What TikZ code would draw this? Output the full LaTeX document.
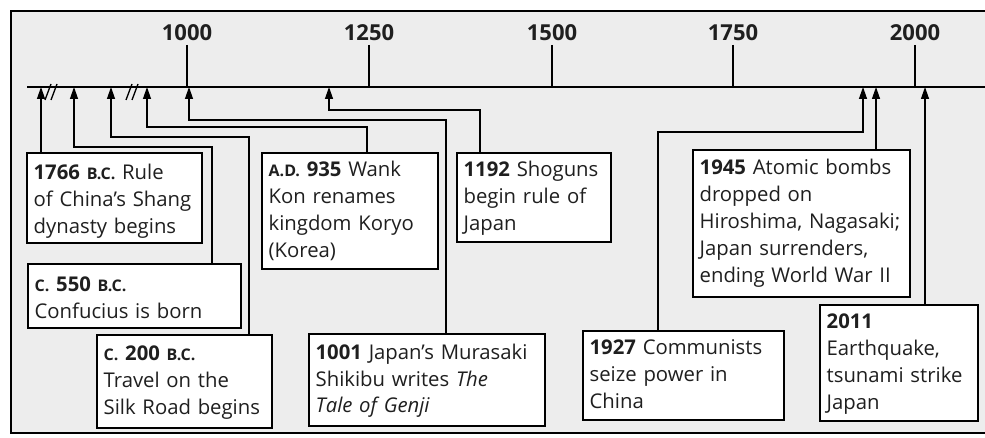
\documentclass[tikz,border=0pt]{standalone}
\usepackage{fontspec}
\setmainfont{Open Sans}
\usetikzlibrary{arrows.meta}
\newcommand\smc[1]{{\fontsize{16}{27}\selectfont #1}}
\begin{document}
\begin{tikzpicture}[x=1pt,y=-1pt,
  line width=1.3pt,
  box/.style={draw, fill=white, inner sep=0pt, outer sep=0pt, anchor=north west},
  txt/.style={anchor=base west, inner sep=0pt, align=left, font=\fontsize{20.3}{27}\selectfont, text=black!88},
  arr/.style={-{Triangle[length=12pt,width=8pt]}},
  yr/.style={font=\bfseries\fontsize{22}{22}\selectfont, anchor=base, inner sep=0pt, text=black!88}
]
\useasboundingbox (0,0) rectangle (985,438);
% frame
\fill[black!7] (11,11) rectangle (990,433);
\draw (990,11) -- (11,11) -- (11,433) -- (990,433);
% axis
\coordinate (axL) at (27,87);
\coordinate (axR) at (990,87);
\draw (axL) -- (axR);
% break marks
\draw (45,100) -- (51,84);
\draw (51,100) -- (57,84);
\draw (126,100) -- (132,84);
\draw (132,100) -- (138,84);
% year labels and ticks
\foreach \yv/\xv in {1000/187,1250/369,1500/552,1750/733,2000/915}{
  \node[yr] (l\yv) at (\xv,41) {\yv};
  \draw ([yshift=-3pt]l\yv.south) -- (l\yv.south |- axL);
}
% boxes
\node[box, minimum width=175pt, minimum height=90pt] (b1) at (27,153) {};
\node[box, minimum width=213pt, minimum height=64pt] (b2) at (28,264) {};
\node[box, minimum width=175pt, minimum height=93pt] (b3) at (97,335) {};
\node[box, minimum width=176pt, minimum height=116pt] (b4) at (262,153) {};
\node[box, minimum width=154pt, minimum height=89pt] (b5) at (457,153) {};
\node[box, minimum width=236pt, minimum height=92pt] (b6) at (309,334) {};
\node[box, minimum width=201pt, minimum height=89pt] (b7) at (583,331) {};
\node[box, minimum width=217pt, minimum height=147pt] (b8) at (693,150) {};
\node[box, minimum width=158pt, minimum height=116pt] (b9) at (820,305) {};
% texts
\node[txt, text width=168pt] (x1) at ([shift={(6,27)}]b1.north west) {\textbf{1766 \smc{B.C.}} Rule\\of China's Shang\\dynasty begins};
\node[txt, text width=205pt] (x2) at ([shift={(6,27)}]b2.north west) {\textbf{\smc{C.} 550 \smc{B.C.}}\\Confucius is born};
\node[txt, text width=168pt] (x3) at ([shift={(6,25)}]b3.north west) {\textbf{\smc{C.} 200 \smc{B.C.}}\\Travel on the\\Silk Road begins};
\node[txt, text width=168pt] (x4) at ([shift={(6,24)}]b4.north west) {\textbf{\smc{A.D.} 935} Wank\\Kon renames\\kingdom Koryo\\(Korea)};
\node[txt, text width=146pt] (x5) at ([shift={(6,24)}]b5.north west) {\textbf{1192} Shoguns\\begin rule of\\Japan};
\node[txt, text width=228pt] (x6) at ([shift={(6,25)}]b6.north west) {\textbf{1001} Japan's Murasaki\\Shikibu writes \textit{The}\\\textit{Tale of Genji}};
\node[txt, text width=193pt] (x7) at ([shift={(6,23)}]b7.north west) {\textbf{1927} Communists\\seize power in\\China};
\node[txt, text width=209pt] (x8) at ([shift={(6,25)}]b8.north west) {\textbf{1945} Atomic bombs\\dropped on\\Hiroshima, Nagasaki;\\Japan surrenders,\\ending World War II};
\node[txt, text width=150pt] (x9) at ([shift={(6,23)}]b9.north west) {\textbf{2011}\\Earthquake,\\tsunami strike\\Japan};
% arrow targets on the axis
\coordinate (t1) at (41,87);
\coordinate (t2) at (74,87);
\coordinate (t3) at (111,87);
\coordinate (t4) at (147,87);
\coordinate (t5) at (189,87);
\coordinate (t6) at (329,87);
\coordinate (t7) at (863,87);
\coordinate (t8) at (876,87);
\coordinate (t9) at (925,87);
% elbow corners
\coordinate (c2) at (212,147);
\coordinate (c3) at (249,137);
\coordinate (c4) at (367,127);
\coordinate (c5) at (446,120);
\coordinate (c6) at (480,110);
\coordinate (c7) at (658,132);
% connectors
\draw[arr] (t1 |- b1.north) -- (t1);
\draw[arr] (c2 |- b2.north) -- (c2) -| (t2);
\draw[arr] (c3 |- b3.north) -- (c3) -| (t3);
\draw[arr] (c4 |- b4.north) -- (c4) -| (t4);
\draw[arr] (c5 |- b6.north) -- (c5) -| (t5);
\draw[arr] (c6 |- b5.north) -- (c6) -| (t6);
\draw[arr] (c7 |- b7.north) -- (c7) -| (t7);
\draw[arr] (t8 |- b8.north) -- (t8);
\draw[arr] (t9 |- b9.north) -- (t9);
\end{tikzpicture}
\end{document}
